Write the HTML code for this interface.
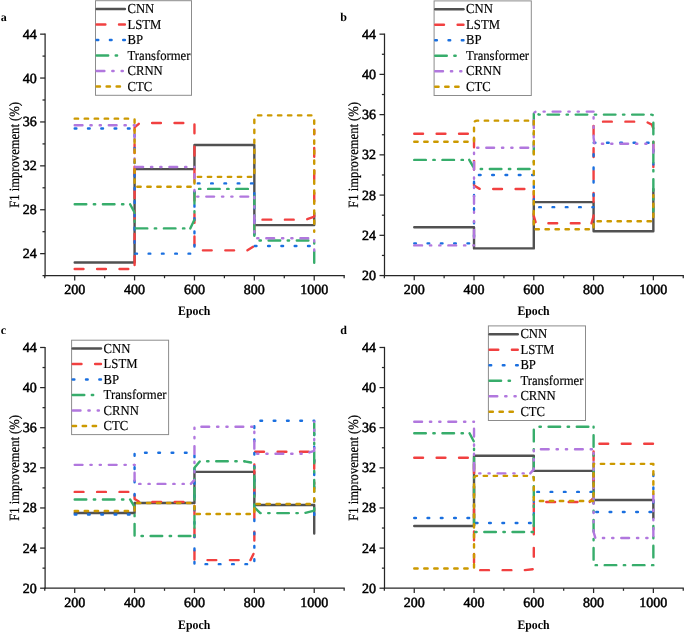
<!DOCTYPE html>
<html><head><meta charset="utf-8"><style>
html,body{margin:0;padding:0;background:#fff;}
svg{display:block;text-rendering:geometricPrecision;will-change:transform;}
text{font-family:"Liberation Serif", serif;}
</style></head><body>
<svg width="685" height="632" viewBox="0 0 685 632">
<rect width="685" height="632" fill="#fff"/>
<path d="M74.7 262.43 L134.58 262.43 L134.58 169.14 L194.46 169.14 L194.46 145 L254.34 145 L254.34 225.12 L314.22 225.12 L314.22 213.04" fill="none" stroke="#515151" stroke-width="2.4" stroke-linecap="round" stroke-linejoin="round"/>
<path d="M74.7 269.01 L134.58 269.01" fill="none" stroke="#F14040" stroke-width="2.4" stroke-linecap="round" stroke-linejoin="round" stroke-dasharray="8.8 13.6"/>
<path d="M134.58 269.01 L134.58 127.44 L139.67 123.05 L194.46 123.05" fill="none" stroke="#F14040" stroke-width="2.4" stroke-linecap="round" stroke-linejoin="round" stroke-dasharray="8.8 13.6" stroke-dashoffset="18.47"/>
<path d="M194.46 123.05 L194.46 250.36 L247.45 250.36" fill="none" stroke="#F14040" stroke-width="2.4" stroke-linecap="round" stroke-linejoin="round" stroke-dasharray="8.8 13.6" stroke-dashoffset="21.05"/>
<path d="M247.45 250.36 L254.34 245.97 L254.34 219.63 L305.84 219.63 L313.62 216.88 L314.22 216.34 L314.22 129.63" fill="none" stroke="#F14040" stroke-width="2.4" stroke-linecap="round" stroke-linejoin="round" stroke-dasharray="8.8 13.6" stroke-dashoffset="2.13"/>
<path d="M74.7 128.54 L134.58 128.54" fill="none" stroke="#1A6FDF" stroke-width="2.4" stroke-linecap="round" stroke-linejoin="round" stroke-dasharray="1.7 11.6"/>
<path d="M134.58 128.54 L134.58 253.65 L194.46 253.65" fill="none" stroke="#1A6FDF" stroke-width="2.4" stroke-linecap="round" stroke-linejoin="round" stroke-dasharray="1.7 11.6" stroke-dashoffset="7.16"/>
<path d="M194.46 253.65 L194.46 183.41 L254.34 183.41" fill="none" stroke="#1A6FDF" stroke-width="2.4" stroke-linecap="round" stroke-linejoin="round" stroke-dasharray="1.7 11.6" stroke-dashoffset="6.22"/>
<path d="M254.34 183.41 L254.34 245.97 L314.22 245.97" fill="none" stroke="#1A6FDF" stroke-width="2.4" stroke-linecap="round" stroke-linejoin="round" stroke-dasharray="1.7 11.6" stroke-dashoffset="3.48"/>
<path d="M74.7 204.26 L130.09 204.26" fill="none" stroke="#37AD6B" stroke-width="2.4" stroke-linecap="round" stroke-linejoin="round" stroke-dasharray="11.6 7.5 1.4 7.7"/>
<path d="M130.09 204.26 L134.58 212.49 L134.58 228.41 L190.27 228.41" fill="none" stroke="#37AD6B" stroke-width="2.4" stroke-linecap="round" stroke-linejoin="round" stroke-dasharray="11.6 7.5 1.4 7.7" stroke-dashoffset="1.79"/>
<path d="M190.27 228.41 L194.46 219.63 L194.46 188.9 L254.34 188.9" fill="none" stroke="#37AD6B" stroke-width="2.4" stroke-linecap="round" stroke-linejoin="round" stroke-dasharray="11.6 7.5 1.4 7.7" stroke-dashoffset="2.3"/>
<path d="M254.34 188.9 L254.34 237.19 L259.43 240.48 L314.22 240.48 L314.22 270.11" fill="none" stroke="#37AD6B" stroke-width="2.4" stroke-linecap="round" stroke-linejoin="round" stroke-dasharray="11.6 7.5 1.4 7.7" stroke-dashoffset="21.08"/>
<path d="M74.7 125.24 L134.58 125.24" fill="none" stroke="#B177DE" stroke-width="2.4" stroke-linecap="round" stroke-linejoin="round" stroke-dasharray="7.8 7.9 1.3 8 1.2 7.9"/>
<path d="M134.58 125.24 L134.58 166.95 L194.46 166.95" fill="none" stroke="#B177DE" stroke-width="2.4" stroke-linecap="round" stroke-linejoin="round" stroke-dasharray="7.8 7.9 1.3 8 1.2 7.9" stroke-dashoffset="25.77"/>
<path d="M194.46 166.95 L194.46 196.58 L254.34 196.58" fill="none" stroke="#B177DE" stroke-width="2.4" stroke-linecap="round" stroke-linejoin="round" stroke-dasharray="7.8 7.9 1.3 8 1.2 7.9" stroke-dashoffset="26.73"/>
<path d="M254.34 196.58 L254.34 237.19 L255.84 238.29 L314.22 238.29 L314.22 251.46" fill="none" stroke="#B177DE" stroke-width="2.4" stroke-linecap="round" stroke-linejoin="round" stroke-dasharray="7.8 7.9 1.3 8 1.2 7.9" stroke-dashoffset="15.27"/>
<path d="M74.7 118.66 L134.58 118.66" fill="none" stroke="#CC9900" stroke-width="2.4" stroke-linecap="round" stroke-linejoin="round" stroke-dasharray="3.4 6.6"/>
<path d="M134.58 118.66 L134.58 186.7 L194.46 186.7" fill="none" stroke="#CC9900" stroke-width="2.4" stroke-linecap="round" stroke-linejoin="round" stroke-dasharray="3.4 6.6" stroke-dashoffset="9.24"/>
<path d="M194.46 186.7 L194.46 176.83 L254.34 176.83" fill="none" stroke="#CC9900" stroke-width="2.4" stroke-linecap="round" stroke-linejoin="round" stroke-dasharray="3.4 6.6" stroke-dashoffset="6.78"/>
<path d="M254.34 176.83 L254.34 118.37 Q254.34 115.37 257.34 115.37 L311.22 115.37 Q314.22 115.37 314.22 118.37 L314.22 231.7" fill="none" stroke="#CC9900" stroke-width="2.4" stroke-linecap="round" stroke-linejoin="round" stroke-dasharray="3.4 6.6" stroke-dashoffset="6.18"/>
<g stroke="#262626" stroke-width="1.25" fill="none">
<path d="M45.1 33.55 V276.2"/>
<path d="M44.5 275.6 H344.76"/>
<path d="M40.1 253.65 H45.1"/>
<path d="M40.1 209.75 H45.1"/>
<path d="M40.1 165.85 H45.1"/>
<path d="M40.1 121.95 H45.1"/>
<path d="M40.1 78.05 H45.1"/>
<path d="M40.1 34.15 H45.1"/>
<path d="M42.5 275.6 H45.1"/>
<path d="M42.5 231.7 H45.1"/>
<path d="M42.5 187.8 H45.1"/>
<path d="M42.5 143.9 H45.1"/>
<path d="M42.5 100 H45.1"/>
<path d="M42.5 56.1 H45.1"/>
<path d="M74.7 275.6 V280.4"/>
<path d="M134.58 275.6 V280.4"/>
<path d="M194.46 275.6 V280.4"/>
<path d="M254.34 275.6 V280.4"/>
<path d="M314.22 275.6 V280.4"/>
<path d="M44.76 275.6 V278.2"/>
<path d="M104.64 275.6 V278.2"/>
<path d="M164.52 275.6 V278.2"/>
<path d="M224.4 275.6 V278.2"/>
<path d="M284.28 275.6 V278.2"/>
<path d="M344.16 275.6 V278.2"/>
</g>
<g font-family='"Liberation Serif", serif' font-size="14" fill="#000" stroke="#000" stroke-width="0.5">
<text x="36.7" y="258.15" text-anchor="end">24</text>
<text x="36.7" y="214.25" text-anchor="end">28</text>
<text x="36.7" y="170.35" text-anchor="end">32</text>
<text x="36.7" y="126.45" text-anchor="end">36</text>
<text x="36.7" y="82.55" text-anchor="end">40</text>
<text x="36.7" y="38.65" text-anchor="end">44</text>
<text x="74.7" y="294.1" text-anchor="middle">200</text>
<text x="134.58" y="294.1" text-anchor="middle">400</text>
<text x="194.46" y="294.1" text-anchor="middle">600</text>
<text x="254.34" y="294.1" text-anchor="middle">800</text>
<text x="314.22" y="294.1" text-anchor="middle">1000</text>
</g>
<text transform="translate(194.16 315.4) scale(1 1.1)" text-anchor="middle" font-family='"Liberation Serif", serif' font-size="11.8" font-weight="bold">Epoch</text>
<text transform="translate(18.6 154.88) rotate(-90) scale(1 1.12)" text-anchor="middle" font-family='"Liberation Serif", serif' font-size="12.6" stroke="#000" stroke-width="0.2">F1 improvement (%)</text>
<text x="0.8" y="20.6" font-family='"Liberation Serif", serif' font-size="12" font-weight="bold">a</text>
<rect x="95.5" y="0.7" width="96" height="94.6" fill="#fff" stroke="#8c8c8c" stroke-width="1"/>
<path d="M96.6 9 H124.9" stroke="#515151" stroke-width="2.4" stroke-linecap="round"/>
<text transform="translate(127.5 13.1) scale(1 1.08)" font-family='"Liberation Serif", serif' font-size="12.7" stroke="#000" stroke-width="0.15">CNN</text>
<path d="M96.6 24.5 H124.9" stroke="#F14040" stroke-width="2.4" stroke-linecap="round" stroke-dasharray="8.8 13.6"/>
<text transform="translate(127.5 28.6) scale(1 1.08)" font-family='"Liberation Serif", serif' font-size="12.7" stroke="#000" stroke-width="0.15">LSTM</text>
<path d="M96.6 40 H124.9" stroke="#1A6FDF" stroke-width="2.4" stroke-linecap="round" stroke-dasharray="1.7 11.6"/>
<text transform="translate(127.5 44.1) scale(1 1.08)" font-family='"Liberation Serif", serif' font-size="12.7" stroke="#000" stroke-width="0.15">BP</text>
<path d="M96.6 55.5 H124.9" stroke="#37AD6B" stroke-width="2.4" stroke-linecap="round" stroke-dasharray="11.6 7.5 1.4 30"/>
<text transform="translate(127.5 59.6) scale(1 1.08)" font-family='"Liberation Serif", serif' font-size="12.7" stroke="#000" stroke-width="0.15">Transformer</text>
<path d="M96.6 71 H124.9" stroke="#B177DE" stroke-width="2.4" stroke-linecap="round" stroke-dasharray="7.8 7.9 1.3 8 1.2 7.9"/>
<text transform="translate(127.5 75.1) scale(1 1.08)" font-family='"Liberation Serif", serif' font-size="12.7" stroke="#000" stroke-width="0.15">CRNN</text>
<path d="M96.6 86.5 H124.9" stroke="#CC9900" stroke-width="2.4" stroke-linecap="round" stroke-dasharray="3.4 6.6"/>
<text transform="translate(127.5 90.6) scale(1 1.08)" font-family='"Liberation Serif", serif' font-size="12.7" stroke="#000" stroke-width="0.15">CTC</text>
<path d="M414.24 227.27 L474.02 227.27 L474.02 248.39 L533.8 248.39 L533.8 202.13 L593.58 202.13 L593.58 231.29 L653.36 231.29 L653.36 189.05" fill="none" stroke="#515151" stroke-width="2.4" stroke-linecap="round" stroke-linejoin="round"/>
<path d="M414.24 133.73 L474.02 133.73" fill="none" stroke="#F14040" stroke-width="2.4" stroke-linecap="round" stroke-linejoin="round" stroke-dasharray="8.8 13.6"/>
<path d="M474.02 133.73 L474.02 185.53 L480 189.05 L533.8 189.05" fill="none" stroke="#F14040" stroke-width="2.4" stroke-linecap="round" stroke-linejoin="round" stroke-dasharray="8.8 13.6" stroke-dashoffset="17.66"/>
<path d="M533.8 189.05 L533.8 216.21 L535.89 223.25 L591.49 223.25" fill="none" stroke="#F14040" stroke-width="2.4" stroke-linecap="round" stroke-linejoin="round" stroke-dasharray="8.8 13.6" stroke-dashoffset="20.19"/>
<path d="M591.49 223.25 L593.58 216.21 L593.58 121.66 L645.89 121.66 L651.87 124.68 L653.36 128.7 L653.36 166.92" fill="none" stroke="#F14040" stroke-width="2.4" stroke-linecap="round" stroke-linejoin="round" stroke-dasharray="8.8 13.6" stroke-dashoffset="0.69"/>
<path d="M414.24 243.36 L474.02 243.36" fill="none" stroke="#1A6FDF" stroke-width="2.4" stroke-linecap="round" stroke-linejoin="round" stroke-dasharray="1.7 11.6"/>
<path d="M474.02 243.36 L474.02 174.97 L533.8 174.97" fill="none" stroke="#1A6FDF" stroke-width="2.4" stroke-linecap="round" stroke-linejoin="round" stroke-dasharray="1.7 11.6" stroke-dashoffset="6.53"/>
<path d="M533.8 174.97 L533.8 207.16 L593.58 207.16" fill="none" stroke="#1A6FDF" stroke-width="2.4" stroke-linecap="round" stroke-linejoin="round" stroke-dasharray="1.7 11.6" stroke-dashoffset="2.31"/>
<path d="M593.58 207.16 L593.58 142.78 L653.36 142.78 L653.36 164.91" fill="none" stroke="#1A6FDF" stroke-width="2.4" stroke-linecap="round" stroke-linejoin="round" stroke-dasharray="1.7 11.6" stroke-dashoffset="2.01"/>
<path d="M414.24 159.88 L469.24 159.88" fill="none" stroke="#37AD6B" stroke-width="2.4" stroke-linecap="round" stroke-linejoin="round" stroke-dasharray="11.6 7.5 1.4 7.7"/>
<path d="M469.24 159.88 L473.12 166.62 L478.5 168.94 L533.8 168.94" fill="none" stroke="#37AD6B" stroke-width="2.4" stroke-linecap="round" stroke-linejoin="round" stroke-dasharray="11.6 7.5 1.4 7.7" stroke-dashoffset="3.27"/>
<path d="M533.8 168.94 L533.8 111.6 L538.88 114.62 L651.36 114.62 Q653.36 114.62 653.36 116.62 L653.36 211.18" fill="none" stroke="#37AD6B" stroke-width="2.4" stroke-linecap="round" stroke-linejoin="round" stroke-dasharray="11.6 7.5 1.4 7.7" stroke-dashoffset="12.74"/>
<path d="M414.24 245.38 L474.02 245.38" fill="none" stroke="#B177DE" stroke-width="2.4" stroke-linecap="round" stroke-linejoin="round" stroke-dasharray="7.8 7.9 1.3 8 1.2 7.9"/>
<path d="M474.02 245.38 L474.02 147.81 L533.8 147.81" fill="none" stroke="#B177DE" stroke-width="2.4" stroke-linecap="round" stroke-linejoin="round" stroke-dasharray="7.8 7.9 1.3 8 1.2 7.9" stroke-dashoffset="26.56"/>
<path d="M533.8 147.81 L533.8 114.6 Q533.8 111.6 536.8 111.6 L593.58 111.6" fill="none" stroke="#B177DE" stroke-width="2.4" stroke-linecap="round" stroke-linejoin="round" stroke-dasharray="7.8 7.9 1.3 8 1.2 7.9" stroke-dashoffset="14.39"/>
<path d="M593.58 111.6 L593.58 137.76 L594.48 143.79 L653.36 143.79 L653.36 154.85" fill="none" stroke="#B177DE" stroke-width="2.4" stroke-linecap="round" stroke-linejoin="round" stroke-dasharray="7.8 7.9 1.3 8 1.2 7.9" stroke-dashoffset="10.12"/>
<path d="M414.24 141.78 L474.02 141.78" fill="none" stroke="#CC9900" stroke-width="2.4" stroke-linecap="round" stroke-linejoin="round" stroke-dasharray="3.4 6.6"/>
<path d="M474.02 141.78 L474.02 123.66 Q474.02 120.66 477.02 120.66 L533.8 120.66" fill="none" stroke="#CC9900" stroke-width="2.4" stroke-linecap="round" stroke-linejoin="round" stroke-dasharray="3.4 6.6" stroke-dashoffset="9.4"/>
<path d="M533.8 120.66 L533.8 229.28 L593.58 229.28" fill="none" stroke="#CC9900" stroke-width="2.4" stroke-linecap="round" stroke-linejoin="round" stroke-dasharray="3.4 6.6" stroke-dashoffset="9.67"/>
<path d="M593.58 229.28 L593.58 221.24 L653.36 221.24 L653.36 195.09" fill="none" stroke="#CC9900" stroke-width="2.4" stroke-linecap="round" stroke-linejoin="round" stroke-dasharray="3.4 6.6" stroke-dashoffset="8.03"/>
<g stroke="#262626" stroke-width="1.25" fill="none">
<path d="M384.5 33.56 V276.15"/>
<path d="M383.9 275.55 H683.85"/>
<path d="M379.5 275.55 H384.5"/>
<path d="M379.5 235.32 H384.5"/>
<path d="M379.5 195.09 H384.5"/>
<path d="M379.5 154.85 H384.5"/>
<path d="M379.5 114.62 H384.5"/>
<path d="M379.5 74.39 H384.5"/>
<path d="M379.5 34.16 H384.5"/>
<path d="M381.9 255.43 H384.5"/>
<path d="M381.9 215.2 H384.5"/>
<path d="M381.9 174.97 H384.5"/>
<path d="M381.9 134.74 H384.5"/>
<path d="M381.9 94.51 H384.5"/>
<path d="M381.9 54.27 H384.5"/>
<path d="M414.24 275.55 V280.35"/>
<path d="M474.02 275.55 V280.35"/>
<path d="M533.8 275.55 V280.35"/>
<path d="M593.58 275.55 V280.35"/>
<path d="M653.36 275.55 V280.35"/>
<path d="M384.35 275.55 V278.15"/>
<path d="M444.13 275.55 V278.15"/>
<path d="M503.91 275.55 V278.15"/>
<path d="M563.69 275.55 V278.15"/>
<path d="M623.47 275.55 V278.15"/>
<path d="M683.25 275.55 V278.15"/>
</g>
<g font-family='"Liberation Serif", serif' font-size="14" fill="#000" stroke="#000" stroke-width="0.5">
<text x="376.1" y="280.05" text-anchor="end">20</text>
<text x="376.1" y="239.82" text-anchor="end">24</text>
<text x="376.1" y="199.59" text-anchor="end">28</text>
<text x="376.1" y="159.35" text-anchor="end">32</text>
<text x="376.1" y="119.12" text-anchor="end">36</text>
<text x="376.1" y="78.89" text-anchor="end">40</text>
<text x="376.1" y="38.66" text-anchor="end">44</text>
<text x="414.24" y="294.05" text-anchor="middle">200</text>
<text x="474.02" y="294.05" text-anchor="middle">400</text>
<text x="533.8" y="294.05" text-anchor="middle">600</text>
<text x="593.58" y="294.05" text-anchor="middle">800</text>
<text x="653.36" y="294.05" text-anchor="middle">1000</text>
</g>
<text transform="translate(533.5 315.35) scale(1 1.1)" text-anchor="middle" font-family='"Liberation Serif", serif' font-size="11.8" font-weight="bold">Epoch</text>
<text transform="translate(358 154.85) rotate(-90) scale(1 1.12)" text-anchor="middle" font-family='"Liberation Serif", serif' font-size="12.6" stroke="#000" stroke-width="0.2">F1 improvement (%)</text>
<text x="340.3" y="20.6" font-family='"Liberation Serif", serif' font-size="12" font-weight="bold">b</text>
<rect x="434.1" y="0.9" width="97.2" height="94.6" fill="#fff" stroke="#8c8c8c" stroke-width="1"/>
<path d="M435.2 9.2 H463.5" stroke="#515151" stroke-width="2.4" stroke-linecap="round"/>
<text transform="translate(466.1 13.3) scale(1 1.08)" font-family='"Liberation Serif", serif' font-size="12.7" stroke="#000" stroke-width="0.15">CNN</text>
<path d="M435.2 24.7 H463.5" stroke="#F14040" stroke-width="2.4" stroke-linecap="round" stroke-dasharray="8.8 13.6"/>
<text transform="translate(466.1 28.8) scale(1 1.08)" font-family='"Liberation Serif", serif' font-size="12.7" stroke="#000" stroke-width="0.15">LSTM</text>
<path d="M435.2 40.2 H463.5" stroke="#1A6FDF" stroke-width="2.4" stroke-linecap="round" stroke-dasharray="1.7 11.6"/>
<text transform="translate(466.1 44.3) scale(1 1.08)" font-family='"Liberation Serif", serif' font-size="12.7" stroke="#000" stroke-width="0.15">BP</text>
<path d="M435.2 55.7 H463.5" stroke="#37AD6B" stroke-width="2.4" stroke-linecap="round" stroke-dasharray="11.6 7.5 1.4 30"/>
<text transform="translate(466.1 59.8) scale(1 1.08)" font-family='"Liberation Serif", serif' font-size="12.7" stroke="#000" stroke-width="0.15">Transformer</text>
<path d="M435.2 71.2 H463.5" stroke="#B177DE" stroke-width="2.4" stroke-linecap="round" stroke-dasharray="7.8 7.9 1.3 8 1.2 7.9"/>
<text transform="translate(466.1 75.3) scale(1 1.08)" font-family='"Liberation Serif", serif' font-size="12.7" stroke="#000" stroke-width="0.15">CRNN</text>
<path d="M435.2 86.7 H463.5" stroke="#CC9900" stroke-width="2.4" stroke-linecap="round" stroke-dasharray="3.4 6.6"/>
<text transform="translate(466.1 90.8) scale(1 1.08)" font-family='"Liberation Serif", serif' font-size="12.7" stroke="#000" stroke-width="0.15">CTC</text>
<path d="M74.7 512.98 L134.58 512.98 L134.58 502.95 L194.46 502.95 L194.46 471.85 L254.34 471.85 L254.34 504.95 L314.22 504.95 L314.22 533.54" fill="none" stroke="#515151" stroke-width="2.4" stroke-linecap="round" stroke-linejoin="round"/>
<path d="M74.7 491.91 L134.58 491.91" fill="none" stroke="#F14040" stroke-width="2.4" stroke-linecap="round" stroke-linejoin="round" stroke-dasharray="8.8 13.6"/>
<path d="M134.58 491.91 L134.58 498.93 L139.67 501.94 L194.46 501.94" fill="none" stroke="#F14040" stroke-width="2.4" stroke-linecap="round" stroke-linejoin="round" stroke-dasharray="8.8 13.6" stroke-dashoffset="19.24"/>
<path d="M194.46 501.94 L194.46 560.12 L250.45 560.12" fill="none" stroke="#F14040" stroke-width="2.4" stroke-linecap="round" stroke-linejoin="round" stroke-dasharray="8.8 13.6" stroke-dashoffset="18.39"/>
<path d="M250.45 560.12 L254.34 552.09 L254.34 451.79 L314.22 451.79 L314.22 483.89" fill="none" stroke="#F14040" stroke-width="2.4" stroke-linecap="round" stroke-linejoin="round" stroke-dasharray="8.8 13.6" stroke-dashoffset="1.92"/>
<path d="M74.7 514.48 L134.58 514.48" fill="none" stroke="#1A6FDF" stroke-width="2.4" stroke-linecap="round" stroke-linejoin="round" stroke-dasharray="1.7 11.6"/>
<path d="M134.58 514.48 L134.58 452.8 L194.46 452.8" fill="none" stroke="#1A6FDF" stroke-width="2.4" stroke-linecap="round" stroke-linejoin="round" stroke-dasharray="1.7 11.6" stroke-dashoffset="7.7"/>
<path d="M194.46 452.8 L194.46 564.13 L254.34 564.13" fill="none" stroke="#1A6FDF" stroke-width="2.4" stroke-linecap="round" stroke-linejoin="round" stroke-dasharray="1.7 11.6" stroke-dashoffset="10.63"/>
<path d="M254.34 564.13 L254.34 420.7 L314.22 420.7 L314.22 514.98" fill="none" stroke="#1A6FDF" stroke-width="2.4" stroke-linecap="round" stroke-linejoin="round" stroke-dasharray="1.7 11.6" stroke-dashoffset="10.11"/>
<path d="M74.7 499.43 L130.09 499.43" fill="none" stroke="#37AD6B" stroke-width="2.4" stroke-linecap="round" stroke-linejoin="round" stroke-dasharray="11.6 7.5 1.4 7.7"/>
<path d="M130.09 499.43 L134.58 506.96 L134.58 536.04 L194.46 536.04" fill="none" stroke="#37AD6B" stroke-width="2.4" stroke-linecap="round" stroke-linejoin="round" stroke-dasharray="11.6 7.5 1.4 7.7" stroke-dashoffset="2.53"/>
<path d="M194.46 536.04 L194.46 467.84 L199.85 461.32 L244.46 461.32" fill="none" stroke="#37AD6B" stroke-width="2.4" stroke-linecap="round" stroke-linejoin="round" stroke-dasharray="11.6 7.5 1.4 7.7" stroke-dashoffset="19.79"/>
<path d="M244.46 461.32 L254.34 463.03 L254.34 507.46 L260.33 513.08 L304.34 513.08 L314.22 510.67 L314.22 422.71" fill="none" stroke="#37AD6B" stroke-width="2.4" stroke-linecap="round" stroke-linejoin="round" stroke-dasharray="11.6 7.5 1.4 7.7" stroke-dashoffset="4.96"/>
<path d="M74.7 464.83 L134.58 464.83" fill="none" stroke="#B177DE" stroke-width="2.4" stroke-linecap="round" stroke-linejoin="round" stroke-dasharray="7.8 7.9 1.3 8 1.2 7.9"/>
<path d="M134.58 464.83 L134.58 483.89 L190.87 483.89" fill="none" stroke="#B177DE" stroke-width="2.4" stroke-linecap="round" stroke-linejoin="round" stroke-dasharray="7.8 7.9 1.3 8 1.2 7.9" stroke-dashoffset="26.12"/>
<path d="M190.87 483.89 L194.46 479.88 L194.46 426.72 L254.34 426.72" fill="none" stroke="#B177DE" stroke-width="2.4" stroke-linecap="round" stroke-linejoin="round" stroke-dasharray="7.8 7.9 1.3 8 1.2 7.9" stroke-dashoffset="2.72"/>
<path d="M254.34 426.72 L254.34 453.8 L305.24 453.8 L314.22 450.79 L314.22 421.7" fill="none" stroke="#B177DE" stroke-width="2.4" stroke-linecap="round" stroke-linejoin="round" stroke-dasharray="7.8 7.9 1.3 8 1.2 7.9" stroke-dashoffset="19.96"/>
<path d="M74.7 510.97 L134.58 510.97" fill="none" stroke="#CC9900" stroke-width="2.4" stroke-linecap="round" stroke-linejoin="round" stroke-dasharray="3.4 6.6"/>
<path d="M134.58 510.97 L134.58 502.95 L194.46 502.95" fill="none" stroke="#CC9900" stroke-width="2.4" stroke-linecap="round" stroke-linejoin="round" stroke-dasharray="3.4 6.6" stroke-dashoffset="9.56"/>
<path d="M194.46 502.95 L194.46 513.98 L254.34 513.98" fill="none" stroke="#CC9900" stroke-width="2.4" stroke-linecap="round" stroke-linejoin="round" stroke-dasharray="3.4 6.6" stroke-dashoffset="6.93"/>
<path d="M254.34 513.98 L254.34 503.95 L314.22 503.95 L314.22 486.9" fill="none" stroke="#CC9900" stroke-width="2.4" stroke-linecap="round" stroke-linejoin="round" stroke-dasharray="3.4 6.6" stroke-dashoffset="7.81"/>
<g stroke="#262626" stroke-width="1.25" fill="none">
<path d="M45.1 346.88 V588.8"/>
<path d="M44.5 588.2 H344.76"/>
<path d="M40.1 588.2 H45.1"/>
<path d="M40.1 548.08 H45.1"/>
<path d="M40.1 507.96 H45.1"/>
<path d="M40.1 467.84 H45.1"/>
<path d="M40.1 427.72 H45.1"/>
<path d="M40.1 387.6 H45.1"/>
<path d="M40.1 347.48 H45.1"/>
<path d="M42.5 568.14 H45.1"/>
<path d="M42.5 528.02 H45.1"/>
<path d="M42.5 487.9 H45.1"/>
<path d="M42.5 447.78 H45.1"/>
<path d="M42.5 407.66 H45.1"/>
<path d="M42.5 367.54 H45.1"/>
<path d="M74.7 588.2 V593"/>
<path d="M134.58 588.2 V593"/>
<path d="M194.46 588.2 V593"/>
<path d="M254.34 588.2 V593"/>
<path d="M314.22 588.2 V593"/>
<path d="M44.76 588.2 V590.8"/>
<path d="M104.64 588.2 V590.8"/>
<path d="M164.52 588.2 V590.8"/>
<path d="M224.4 588.2 V590.8"/>
<path d="M284.28 588.2 V590.8"/>
<path d="M344.16 588.2 V590.8"/>
</g>
<g font-family='"Liberation Serif", serif' font-size="14" fill="#000" stroke="#000" stroke-width="0.5">
<text x="36.7" y="592.7" text-anchor="end">20</text>
<text x="36.7" y="552.58" text-anchor="end">24</text>
<text x="36.7" y="512.46" text-anchor="end">28</text>
<text x="36.7" y="472.34" text-anchor="end">32</text>
<text x="36.7" y="432.22" text-anchor="end">36</text>
<text x="36.7" y="392.1" text-anchor="end">40</text>
<text x="36.7" y="351.98" text-anchor="end">44</text>
<text x="74.7" y="606.7" text-anchor="middle">200</text>
<text x="134.58" y="606.7" text-anchor="middle">400</text>
<text x="194.46" y="606.7" text-anchor="middle">600</text>
<text x="254.34" y="606.7" text-anchor="middle">800</text>
<text x="314.22" y="606.7" text-anchor="middle">1000</text>
</g>
<text transform="translate(194.16 628.5) scale(1 1.1)" text-anchor="middle" font-family='"Liberation Serif", serif' font-size="11.8" font-weight="bold">Epoch</text>
<text transform="translate(18.6 467.84) rotate(-90) scale(1 1.12)" text-anchor="middle" font-family='"Liberation Serif", serif' font-size="12.6" stroke="#000" stroke-width="0.2">F1 improvement (%)</text>
<text x="0.8" y="333.8" font-family='"Liberation Serif", serif' font-size="12" font-weight="bold">c</text>
<rect x="71.6" y="340.2" width="97" height="94.4" fill="#fff" stroke="#8c8c8c" stroke-width="1"/>
<path d="M72.7 348.5 H101" stroke="#515151" stroke-width="2.4" stroke-linecap="round"/>
<text transform="translate(103.6 352.6) scale(1 1.08)" font-family='"Liberation Serif", serif' font-size="12.7" stroke="#000" stroke-width="0.15">CNN</text>
<path d="M72.7 364 H101" stroke="#F14040" stroke-width="2.4" stroke-linecap="round" stroke-dasharray="8.8 13.6"/>
<text transform="translate(103.6 368.1) scale(1 1.08)" font-family='"Liberation Serif", serif' font-size="12.7" stroke="#000" stroke-width="0.15">LSTM</text>
<path d="M72.7 379.5 H101" stroke="#1A6FDF" stroke-width="2.4" stroke-linecap="round" stroke-dasharray="1.7 11.6"/>
<text transform="translate(103.6 383.6) scale(1 1.08)" font-family='"Liberation Serif", serif' font-size="12.7" stroke="#000" stroke-width="0.15">BP</text>
<path d="M72.7 395 H101" stroke="#37AD6B" stroke-width="2.4" stroke-linecap="round" stroke-dasharray="11.6 7.5 1.4 30"/>
<text transform="translate(103.6 399.1) scale(1 1.08)" font-family='"Liberation Serif", serif' font-size="12.7" stroke="#000" stroke-width="0.15">Transformer</text>
<path d="M72.7 410.5 H101" stroke="#B177DE" stroke-width="2.4" stroke-linecap="round" stroke-dasharray="7.8 7.9 1.3 8 1.2 7.9"/>
<text transform="translate(103.6 414.6) scale(1 1.08)" font-family='"Liberation Serif", serif' font-size="12.7" stroke="#000" stroke-width="0.15">CRNN</text>
<path d="M72.7 426 H101" stroke="#CC9900" stroke-width="2.4" stroke-linecap="round" stroke-dasharray="3.4 6.6"/>
<text transform="translate(103.6 430.1) scale(1 1.08)" font-family='"Liberation Serif", serif' font-size="12.7" stroke="#000" stroke-width="0.15">CTC</text>
<path d="M414.24 526.01 L474.02 526.01 L474.02 455.8 L533.8 455.8 L533.8 470.85 L593.58 470.85 L593.58 499.94 L653.36 499.94 L653.36 517.99" fill="none" stroke="#515151" stroke-width="2.4" stroke-linecap="round" stroke-linejoin="round"/>
<path d="M414.24 457.81 L474.02 457.81" fill="none" stroke="#F14040" stroke-width="2.4" stroke-linecap="round" stroke-linejoin="round" stroke-dasharray="8.8 13.6"/>
<path d="M474.02 457.81 L474.02 570.15 L524.83 570.15" fill="none" stroke="#F14040" stroke-width="2.4" stroke-linecap="round" stroke-linejoin="round" stroke-dasharray="8.8 13.6" stroke-dashoffset="15.88"/>
<path d="M524.83 570.15 L533.8 569.14 L533.8 501.94 L589.69 501.94" fill="none" stroke="#F14040" stroke-width="2.4" stroke-linecap="round" stroke-linejoin="round" stroke-dasharray="8.8 13.6" stroke-dashoffset="0.88"/>
<path d="M589.69 501.94 L593.58 497.93 L593.58 443.77 L653.36 443.77" fill="none" stroke="#F14040" stroke-width="2.4" stroke-linecap="round" stroke-linejoin="round" stroke-dasharray="8.8 13.6" stroke-dashoffset="1.63"/>
<path d="M414.24 517.99 L474.02 517.99" fill="none" stroke="#1A6FDF" stroke-width="2.4" stroke-linecap="round" stroke-linejoin="round" stroke-dasharray="1.7 11.6"/>
<path d="M474.02 517.99 L474.02 523.01 L533.8 523.01" fill="none" stroke="#1A6FDF" stroke-width="2.4" stroke-linecap="round" stroke-linejoin="round" stroke-dasharray="1.7 11.6" stroke-dashoffset="6.5"/>
<path d="M533.8 523.01 L533.8 491.91 L593.58 491.91" fill="none" stroke="#1A6FDF" stroke-width="2.4" stroke-linecap="round" stroke-linejoin="round" stroke-dasharray="1.7 11.6" stroke-dashoffset="5.31"/>
<path d="M593.58 491.91 L593.58 511.97 L653.36 511.97 L653.36 462.83" fill="none" stroke="#1A6FDF" stroke-width="2.4" stroke-linecap="round" stroke-linejoin="round" stroke-dasharray="1.7 11.6" stroke-dashoffset="3.82"/>
<path d="M414.24 433.24 L469.54 433.24" fill="none" stroke="#37AD6B" stroke-width="2.4" stroke-linecap="round" stroke-linejoin="round" stroke-dasharray="11.6 7.5 1.4 7.7"/>
<path d="M469.54 433.24 L474.02 441.76 L474.02 532.03 L533.8 532.03" fill="none" stroke="#37AD6B" stroke-width="2.4" stroke-linecap="round" stroke-linejoin="round" stroke-dasharray="11.6 7.5 1.4 7.7" stroke-dashoffset="2.62"/>
<path d="M533.8 532.03 L533.8 429.72 Q533.8 426.72 536.8 426.72 L593.58 426.72" fill="none" stroke="#37AD6B" stroke-width="2.4" stroke-linecap="round" stroke-linejoin="round" stroke-dasharray="11.6 7.5 1.4 7.7" stroke-dashoffset="22.18"/>
<path d="M593.58 426.72 L593.58 565.13 L653.36 565.13 L653.36 526.01" fill="none" stroke="#37AD6B" stroke-width="2.4" stroke-linecap="round" stroke-linejoin="round" stroke-dasharray="11.6 7.5 1.4 7.7" stroke-dashoffset="19.67"/>
<path d="M414.24 421.7 L474.02 421.7" fill="none" stroke="#B177DE" stroke-width="2.4" stroke-linecap="round" stroke-linejoin="round" stroke-dasharray="7.8 7.9 1.3 8 1.2 7.9"/>
<path d="M474.02 421.7 L474.02 473.36 L530.21 473.36" fill="none" stroke="#B177DE" stroke-width="2.4" stroke-linecap="round" stroke-linejoin="round" stroke-dasharray="7.8 7.9 1.3 8 1.2 7.9" stroke-dashoffset="27.07"/>
<path d="M530.21 473.36 L533.8 469.34 L533.8 449.28 L593.58 449.28" fill="none" stroke="#B177DE" stroke-width="2.4" stroke-linecap="round" stroke-linejoin="round" stroke-dasharray="7.8 7.9 1.3 8 1.2 7.9" stroke-dashoffset="1.56"/>
<path d="M593.58 449.28 L593.58 532.03 L595.37 538.05 L653.36 538.05 L653.36 487.9" fill="none" stroke="#B177DE" stroke-width="2.4" stroke-linecap="round" stroke-linejoin="round" stroke-dasharray="7.8 7.9 1.3 8 1.2 7.9" stroke-dashoffset="21.45"/>
<path d="M414.24 568.54 L474.02 568.54" fill="none" stroke="#CC9900" stroke-width="2.4" stroke-linecap="round" stroke-linejoin="round" stroke-dasharray="3.4 6.6"/>
<path d="M474.02 568.54 L474.02 478.86 Q474.02 475.86 477.02 475.86 L530.8 475.86 Q533.8 475.86 533.8 478.86 L533.8 500.94 L593.58 500.94" fill="none" stroke="#CC9900" stroke-width="2.4" stroke-linecap="round" stroke-linejoin="round" stroke-dasharray="3.4 6.6" stroke-dashoffset="8.94"/>
<path d="M593.58 500.94 L593.58 463.83 L653.36 463.83 L653.36 493.92" fill="none" stroke="#CC9900" stroke-width="2.4" stroke-linecap="round" stroke-linejoin="round" stroke-dasharray="3.4 6.6" stroke-dashoffset="5.67"/>
<g stroke="#262626" stroke-width="1.25" fill="none">
<path d="M384.5 346.88 V588.8"/>
<path d="M383.9 588.2 H683.85"/>
<path d="M379.5 588.2 H384.5"/>
<path d="M379.5 548.08 H384.5"/>
<path d="M379.5 507.96 H384.5"/>
<path d="M379.5 467.84 H384.5"/>
<path d="M379.5 427.72 H384.5"/>
<path d="M379.5 387.6 H384.5"/>
<path d="M379.5 347.48 H384.5"/>
<path d="M381.9 568.14 H384.5"/>
<path d="M381.9 528.02 H384.5"/>
<path d="M381.9 487.9 H384.5"/>
<path d="M381.9 447.78 H384.5"/>
<path d="M381.9 407.66 H384.5"/>
<path d="M381.9 367.54 H384.5"/>
<path d="M414.24 588.2 V593"/>
<path d="M474.02 588.2 V593"/>
<path d="M533.8 588.2 V593"/>
<path d="M593.58 588.2 V593"/>
<path d="M653.36 588.2 V593"/>
<path d="M384.35 588.2 V590.8"/>
<path d="M444.13 588.2 V590.8"/>
<path d="M503.91 588.2 V590.8"/>
<path d="M563.69 588.2 V590.8"/>
<path d="M623.47 588.2 V590.8"/>
<path d="M683.25 588.2 V590.8"/>
</g>
<g font-family='"Liberation Serif", serif' font-size="14" fill="#000" stroke="#000" stroke-width="0.5">
<text x="376.1" y="592.7" text-anchor="end">20</text>
<text x="376.1" y="552.58" text-anchor="end">24</text>
<text x="376.1" y="512.46" text-anchor="end">28</text>
<text x="376.1" y="472.34" text-anchor="end">32</text>
<text x="376.1" y="432.22" text-anchor="end">36</text>
<text x="376.1" y="392.1" text-anchor="end">40</text>
<text x="376.1" y="351.98" text-anchor="end">44</text>
<text x="414.24" y="606.7" text-anchor="middle">200</text>
<text x="474.02" y="606.7" text-anchor="middle">400</text>
<text x="533.8" y="606.7" text-anchor="middle">600</text>
<text x="593.58" y="606.7" text-anchor="middle">800</text>
<text x="653.36" y="606.7" text-anchor="middle">1000</text>
</g>
<text transform="translate(533.5 628.5) scale(1 1.1)" text-anchor="middle" font-family='"Liberation Serif", serif' font-size="11.8" font-weight="bold">Epoch</text>
<text transform="translate(358 467.84) rotate(-90) scale(1 1.12)" text-anchor="middle" font-family='"Liberation Serif", serif' font-size="12.6" stroke="#000" stroke-width="0.2">F1 improvement (%)</text>
<text x="340.3" y="333.8" font-family='"Liberation Serif", serif' font-size="12" font-weight="bold">d</text>
<rect x="488.4" y="325.9" width="97.1" height="94.6" fill="#fff" stroke="#8c8c8c" stroke-width="1"/>
<path d="M489.5 334.2 H517.8" stroke="#515151" stroke-width="2.4" stroke-linecap="round"/>
<text transform="translate(520.4 338.3) scale(1 1.08)" font-family='"Liberation Serif", serif' font-size="12.7" stroke="#000" stroke-width="0.15">CNN</text>
<path d="M489.5 349.7 H517.8" stroke="#F14040" stroke-width="2.4" stroke-linecap="round" stroke-dasharray="8.8 13.6"/>
<text transform="translate(520.4 353.8) scale(1 1.08)" font-family='"Liberation Serif", serif' font-size="12.7" stroke="#000" stroke-width="0.15">LSTM</text>
<path d="M489.5 365.2 H517.8" stroke="#1A6FDF" stroke-width="2.4" stroke-linecap="round" stroke-dasharray="1.7 11.6"/>
<text transform="translate(520.4 369.3) scale(1 1.08)" font-family='"Liberation Serif", serif' font-size="12.7" stroke="#000" stroke-width="0.15">BP</text>
<path d="M489.5 380.7 H517.8" stroke="#37AD6B" stroke-width="2.4" stroke-linecap="round" stroke-dasharray="11.6 7.5 1.4 30"/>
<text transform="translate(520.4 384.8) scale(1 1.08)" font-family='"Liberation Serif", serif' font-size="12.7" stroke="#000" stroke-width="0.15">Transformer</text>
<path d="M489.5 396.2 H517.8" stroke="#B177DE" stroke-width="2.4" stroke-linecap="round" stroke-dasharray="7.8 7.9 1.3 8 1.2 7.9"/>
<text transform="translate(520.4 400.3) scale(1 1.08)" font-family='"Liberation Serif", serif' font-size="12.7" stroke="#000" stroke-width="0.15">CRNN</text>
<path d="M489.5 411.7 H517.8" stroke="#CC9900" stroke-width="2.4" stroke-linecap="round" stroke-dasharray="3.4 6.6"/>
<text transform="translate(520.4 415.8) scale(1 1.08)" font-family='"Liberation Serif", serif' font-size="12.7" stroke="#000" stroke-width="0.15">CTC</text>
</svg>
</body></html>
